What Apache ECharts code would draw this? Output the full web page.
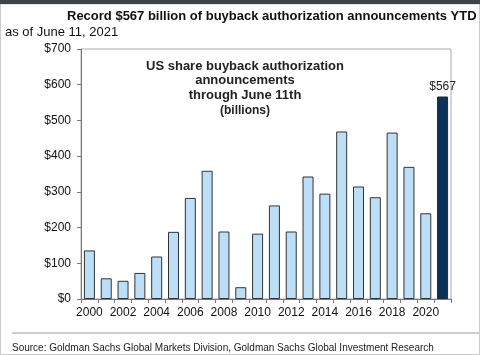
<!DOCTYPE html>
<html>
<head>
<meta charset="utf-8">
<script src="https://cdn.jsdelivr.net/npm/echarts@6/dist/echarts.min.js"></script>
<style>
html,body{margin:0;padding:0;background:#fff;}
#chart{width:480px;height:355px;}
</style>
</head>
<body>
<div id="chart"></div>
<script>
const years = ['2000','2001','2002','2003','2004','2005','2006','2007','2008','2009','2010',
  '2011','2012','2013','2014','2015','2016','2017','2018','2019','2020','2021'];
const buybacks = [136, 58, 51, 73, 119, 188, 283, 359, 189, 33, 183,
  262, 189, 343, 295, 469, 315, 285, 466, 370, 240, 567];
const yTicks = [0, 100, 200, 300, 400, 500, 600, 700];
const highlightYear = '2021';

const FONT = 'Liberation Sans, Arial, sans-serif';
const chart = echarts.init(document.getElementById('chart'), null, {renderer: 'canvas'});

const data = buybacks.map((v, i) => {
  if (years[i] === highlightYear) {
    return {
      value: v,
      itemStyle: {color: '#0b3157', borderColor: '#1d2a36'},
      label: {show: true, position: 'top', distance: 4, formatter: '$' + v,
        color: '#222', fontSize: 12, fontFamily: FONT}
    };
  }
  return v;
});

chart.setOption({
  animation: false,
  title: [
    {text: 'Record $567 billion of buyback authorization announcements YTD', left: 62, top: 5,
     textStyle: {fontSize: 13, fontWeight: 'bold', color: '#111', fontFamily: FONT}},
    {text: 'as of June 11, 2021', left: 0, top: 21,
     textStyle: {fontSize: 13, fontWeight: 'normal', color: '#111', fontFamily: FONT}},
    {text: 'US share buyback authorization\nannouncements\nthrough June 11th', left: 240, top: 54,
     textAlign: 'center',
     textStyle: {fontSize: 13, fontWeight: 'bold', color: '#222', lineHeight: 14.5, fontFamily: FONT}},
    {text: '(billions)', left: 240, top: 100, textAlign: 'center',
     textStyle: {fontSize: 12, fontWeight: 'bold', color: '#222', fontFamily: FONT}},
    {text: 'Source: Goldman Sachs Global Markets Division, Goldman Sachs Global Investment Research',
     left: 7, top: 338,
     textStyle: {fontSize: 10, fontWeight: 'normal', color: '#222', fontFamily: FONT}}
  ],
  grid: {left: 81, right: 29, top: 49, bottom: 56, show: true, borderColor: '#aaa', borderWidth: 1},
  xAxis: {
    type: 'category',
    data: years,
    axisLine: {lineStyle: {color: '#777', width: 1}},
    axisTick: {show: true, interval: 0, length: 4, lineStyle: {color: '#777'}},
    axisLabel: {interval: 1, color: '#111', fontSize: 12, fontFamily: FONT, margin: 8}
  },
  yAxis: {
    type: 'value',
    min: yTicks[0],
    max: yTicks[yTicks.length - 1],
    interval: 100,
    axisLine: {show: true, lineStyle: {color: '#777', width: 1}},
    axisTick: {show: true, length: 4, lineStyle: {color: '#777'}},
    splitLine: {show: false},
    axisLabel: {color: '#111', fontSize: 12, fontFamily: FONT, margin: 10,
      formatter: v => '$' + v}
  },
  series: [{
    type: 'bar',
    data: data,
    barWidth: 11,
    itemStyle: {color: '#bcdff7', borderColor: '#333', borderWidth: 1}
  }],
  graphic: [
    {type: 'rect', left: 0, top: 0, shape: {width: 480, height: 4}, style: {fill: '#3d4348'}, z: 10},
    {type: 'line', shape: {x1: 12, y1: 333, x2: 480, y2: 333}, style: {stroke: '#999', lineWidth: 1}},
    {type: 'rect', shape: {x: 0.5, y: 4, width: 479, height: 350.5}, style: {fill: 'none', stroke: '#ccc', lineWidth: 1}}
  ]
});
</script>
</body>
</html>
